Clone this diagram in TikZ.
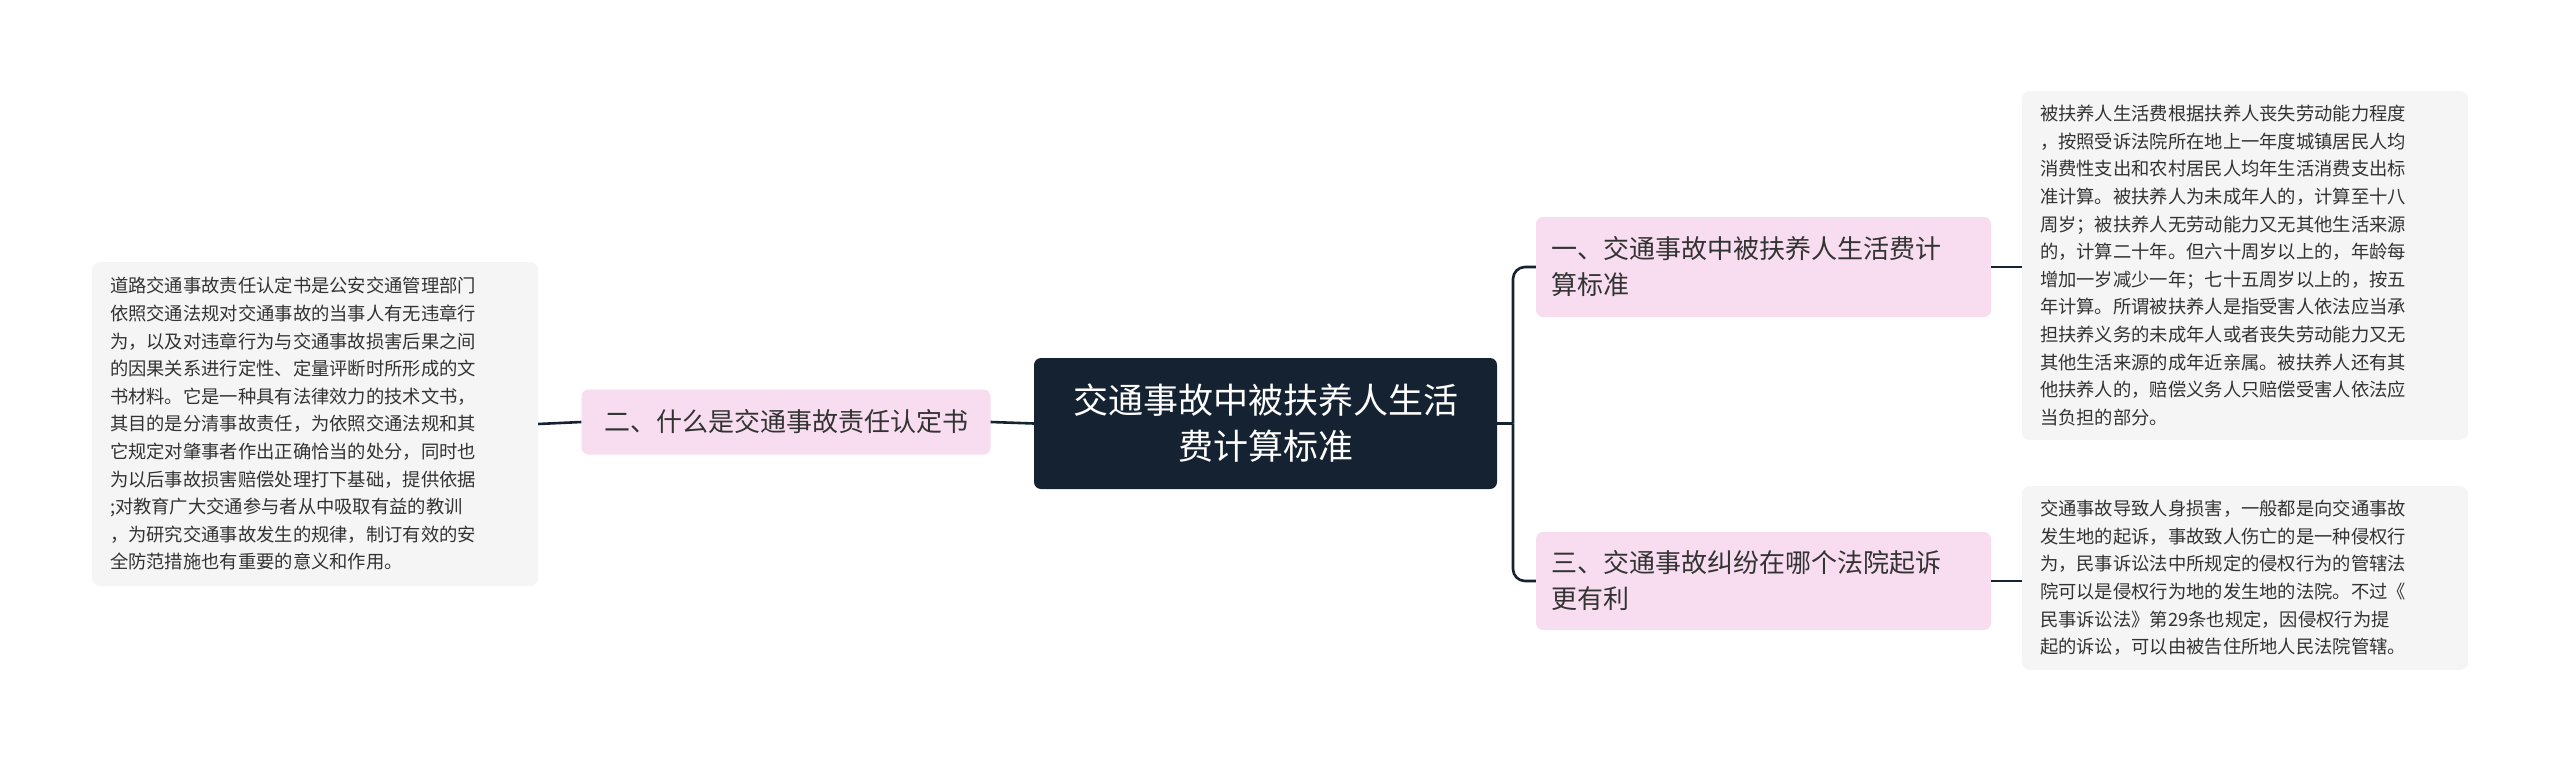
\documentclass[tikz,border=0pt]{standalone}
\usepackage{fontspec}
\setmainfont{Noto Sans CJK SC}
\definecolor{dark}{HTML}{152231}
\definecolor{pinkf}{HTML}{F7DDEF}
\definecolor{greyf}{HTML}{F5F5F5}
\definecolor{txt}{HTML}{333333}
\begin{document}
\begin{tikzpicture}[x=1pt,y=-1pt,
  line/.style={draw=dark,line width=2.6pt},
  leaf/.style={fill=greyf,rounded corners=8pt,inner sep=0pt,text=txt,align=left,font=\fontsize{18.3}{27.6}\selectfont},
  branch/.style={fill=pinkf,rounded corners=7pt,inner sep=0pt,text=txt,font=\fontsize{26}{36}\selectfont},
  root/.style={fill=dark,rounded corners=7pt,inner sep=0pt,text=white,align=center,font=\fontsize{35}{46}\selectfont}]
\useasboundingbox (0,0) rectangle (2560,763);
\node[root,minimum width=463pt,minimum height=131pt] (c) at (1265.5,423.5) {交通事故中被扶养人生活\\费计算标准};
\node[branch,minimum width=409pt,minimum height=65pt] (l) at (786,422) {二、什么是交通事故责任认定书};
\node[branch,minimum width=455pt,minimum height=100pt,align=left,text width=425pt] (r1) at (1763.5,267) {一、交通事故中被扶养人生活费计\\算标准};
\node[branch,minimum width=455pt,minimum height=98pt,align=left,text width=425pt] (r2) at (1763.5,581) {三、交通事故纠纷在哪个法院起诉\\更有利};
\node[leaf,minimum width=446pt,minimum height=324pt,text width=410pt] (lt) at (315,424) {道路交通事故责任认定书是公安交通管理部门\\依照交通法规对交通事故的当事人有无违章行\\为，以及对违章行为与交通事故损害后果之间\\的因果关系进行定性、定量评断时所形成的文\\书材料。它是一种具有法律效力的技术文书，\\其目的是分清事故责任，为依照交通法规和其\\它规定对肇事者作出正确恰当的处分，同时也\\为以后事故损害赔偿处理打下基础，提供依据\\;对教育广大交通参与者从中吸取有益的教训\\，为研究交通事故发生的规律，制订有效的安\\全防范措施也有重要的意义和作用。};
\node[leaf,minimum width=446pt,minimum height=349pt,text width=410pt] (t1) at (2245,265.5) {被扶养人生活费根据扶养人丧失劳动能力程度\\，按照受诉法院所在地上一年度城镇居民人均\\消费性支出和农村居民人均年生活消费支出标\\准计算。被扶养人为未成年人的，计算至十八\\周岁；被扶养人无劳动能力又无其他生活来源\\的，计算二十年。但六十周岁以上的，年龄每\\增加一岁减少一年；七十五周岁以上的，按五\\年计算。所谓被扶养人是指受害人依法应当承\\担扶养义务的未成年人或者丧失劳动能力又无\\其他生活来源的成年近亲属。被扶养人还有其\\他扶养人的，赔偿义务人只赔偿受害人依法应\\当负担的部分。};
\node[leaf,minimum width=446pt,minimum height=184pt,text width=410pt] (t2) at (2245,578) {交通事故导致人身损害，一般都是向交通事故\\发生地的起诉，事故致人伤亡的是一种侵权行\\为，民事诉讼法中所规定的侵权行为的管辖法\\院可以是侵权行为地的发生地的法院。不过《\\民事诉讼法》第29条也规定，因侵权行为提\\起的诉讼，可以由被告住所地人民法院管辖。};
\coordinate (j) at (1513,423.5);
\draw[line] (c.west) -- (l.east);
\draw[line] (l.west) -- (lt.east);
\draw[line] (c.east) -- (j);
\draw[line,rounded corners=12pt] (j) |- (r1.west);
\draw[line,rounded corners=12pt] (j) |- (r2.west);
\draw[line] (r1.east) -- (t1.west |- r1.east);
\draw[line] (r2.east) -- (t2.west |- r2.east);
\end{tikzpicture}
\end{document}
